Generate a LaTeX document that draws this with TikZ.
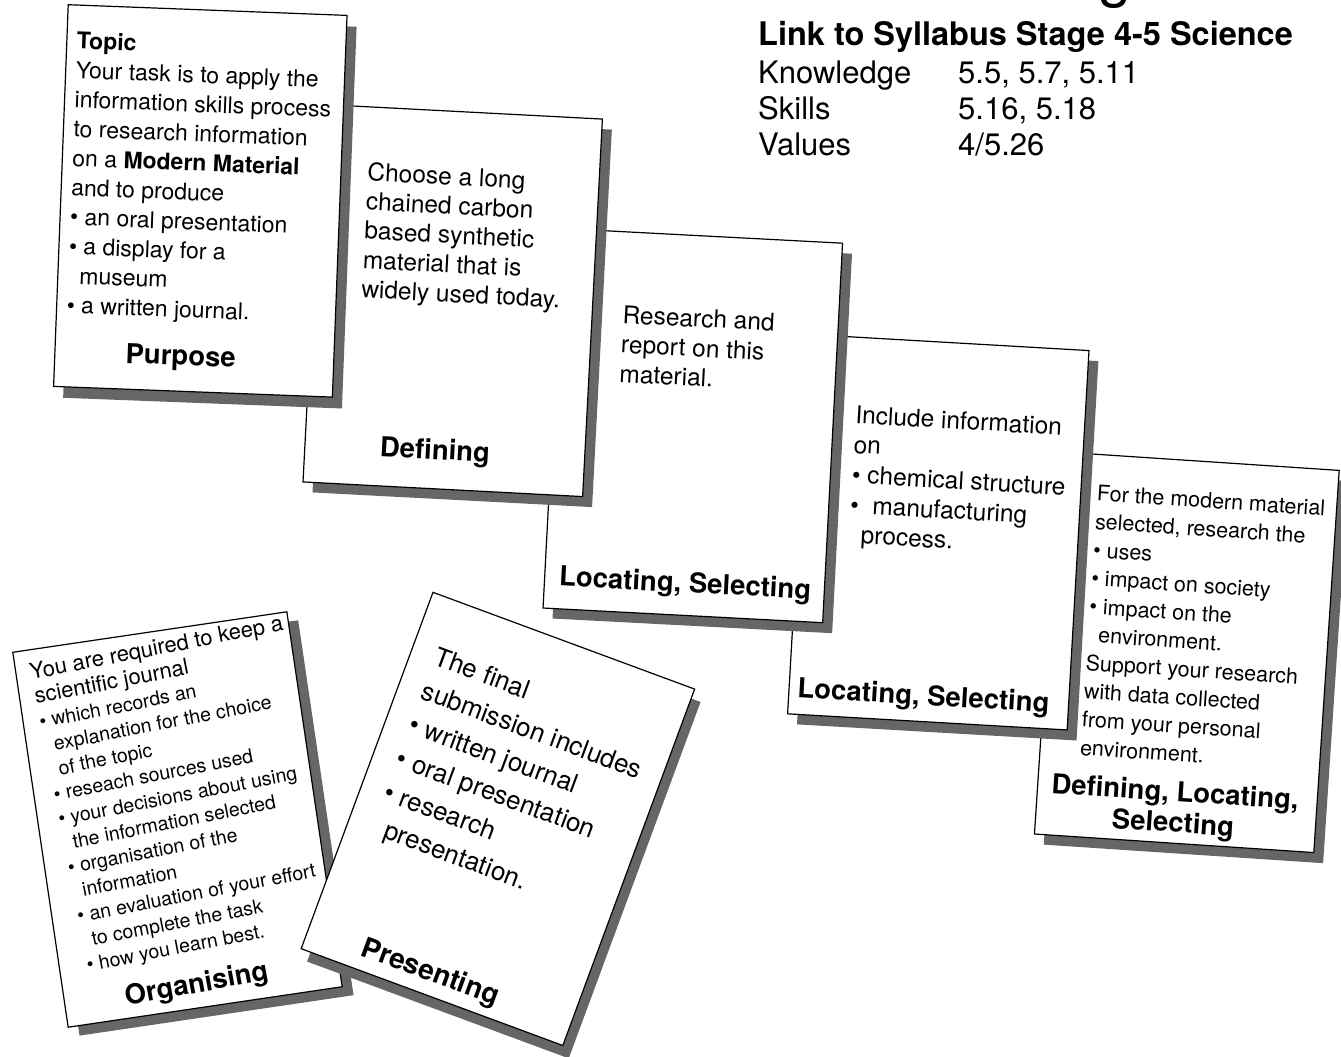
\documentclass[tikz,border=0pt]{standalone}
\usepackage{fontspec}
\usepackage{tikz}
\setmainfont{TeX Gyre Heros}
\tikzset{card/.style = {draw = black, line width = 1.2pt, fill = white,
                        inner sep = 0pt},
         cardshadow/.style = {fill = black!60},
         cardtext/.style = {anchor = north west, align = left, inner sep = 0pt},
         cardlabel/.style = {font = \fontsize{27.5}{31}\selectfont\bfseries,
                             align = center, inner sep = 0pt},
         syllabus/.style = {anchor = base west, inner sep = 0pt,
                            font = \fontsize{31}{36}\selectfont}}

\begin{document}
\begin{tikzpicture}[x = 1pt, y = -1pt]
      \useasboundingbox (0, 0) rectangle (1341, 1057);
      \fill [white] (0, 0) rectangle (1341, 1057);

      \node [syllabus, font = \fontsize{60}{60}\selectfont] (heading) at (1098, -4) {g};
      \node [syllabus, font = \fontsize{32.5}{36}\selectfont\bfseries] (link) at (758, 46)
        {Link to Syllabus Stage 4-5 Science};
      \node [syllabus] (knowledge) at (758, 83) {Knowledge};
      \node [syllabus] (knowledgeref) at (958, 83) {5.5, 5.7, 5.11};
      \node [syllabus] (skills) at (758, 119) {Skills};
      \node [syllabus] (skillsref) at (958, 119) {5.16, 5.18};
      \node [syllabus] (values) at (758, 155) {Values};
      \node [syllabus] (valuesref) at (958, 155) {4/5.26};

      \begin{scope}[shift = {(1186.8, 652.2)}, rotate = -3.8, transform shape]
        \fill [cardshadow] (-130, -181.5) rectangle (150, 201.5);
        \node [card, minimum width = 280, minimum height = 383] (uses) at (0, 0) {};
        \node [cardtext, font = \fontsize{21.5}{28.3}\selectfont] (usestext) at (-100.2, -160.9)
          {For the modern material\\ selected, research the\\ \textbullet\ uses\\
           \textbullet\ impact on society\\ \textbullet\ impact on the\\
           \hspace*{0.5em}environment.\\ Support your research\\ with data collected\\
           from your personal\\ environment.};
        \node [cardlabel] (useslabel) at (-2.4, 157.8) {Defining, Locating,\\ Selecting};
      \end{scope}

      \begin{scope}[shift = {(938.3, 532.2)}, rotate = -3.3, transform shape]
        \fill [cardshadow] (-130, -180) rectangle (150, 200);
        \node [card, minimum width = 280, minimum height = 380] (include) at (0, 0) {};
        \node [cardtext, font = \fontsize{24.5}{30}\selectfont] (includetext) at (-89.6, -122.2)
          {Include information\\ on\\ \textbullet\ chemical structure\\
           \textbullet\ \ manufacturing\\ \hspace*{0.5em}process.};
        \node [cardlabel] (includelabel) at (-5.3, 166) {Locating, Selecting};
      \end{scope}

      \begin{scope}[shift = {(692.8, 425.6)}, rotate = -3, transform shape]
        \fill [cardshadow] (-130, -180) rectangle (150, 200);
        \node [card, minimum width = 280, minimum height = 380] (report) at (0, 0) {};
        \node [cardtext, font = \fontsize{24.5}{29.5}\selectfont] (reporttext) at (-76, -116.7)
          {Research and\\ report on this\\ material.};
        \node [cardlabel] (reportlabel) at (0.7, 159.7) {Locating, Selecting};
      \end{scope}

      \begin{scope}[shift = {(452.7, 300.5)}, rotate = -3, transform shape]
        \fill [cardshadow] (-130, -179) rectangle (150, 199);
        \node [card, minimum width = 280, minimum height = 378] (choose) at (0, 0) {};
        \node [cardtext, font = \fontsize{24.5}{29.3}\selectfont] (choosetext) at (-91.9, -133.9)
          {Choose a long\\ chained carbon\\ based synthetic\\ material that is\\
           widely used today.};
        \node [cardlabel] (chooselabel) at (-9.8, 152.2) {Defining};
      \end{scope}

      \begin{scope}[shift = {(200.3, 200.9)}, rotate = -2.2, transform shape]
        \fill [cardshadow] (-129.5, -180) rectangle (149.5, 202);
        \node [card, minimum width = 279, minimum height = 382] (topic) at (0, 0) {};
        \node [cardtext, font = \fontsize{23}{29.4}\selectfont] (topictext) at (-129.6, -164.7)
          {\textbf{Topic}\\ Your task is to apply the\\ information skills process\\
           to research information\\ on a \textbf{Modern Material}\\ and to produce\\
           \textbullet\ an oral presentation\\ \textbullet\ a display for a\\
           \hspace*{0.5em}museum\\ \textbullet\ a written journal.};
        \node [cardlabel] (topiclabel) at (-13.6, 158) {Purpose};
      \end{scope}

      \begin{scope}[shift = {(177.5, 819.5)}, rotate = 8.4, transform shape]
        \fill [cardshadow] (-128.5, -179.5) rectangle (148.5, 199.5);
        \node [card, minimum width = 277, minimum height = 379] (journal) at (0, 0) {};
        \node [cardtext, rotate = 2.6, font = \fontsize{19.5}{24.8}\selectfont] (journaltext)
          at (-125, -176)
          {{\fontsize{22}{24.8}\selectfont You are required to keep a}\\
           {\fontsize{22}{24.8}\selectfont scientific journal}\\
           \textbullet\ which records an\\ \hspace*{0.5em}explanation for the choice\\
           \hspace*{0.5em}of the topic\\ \textbullet\ reseach sources used\\
           \textbullet\ your decisions about using\\ \hspace*{0.5em}the information selected\\
           \textbullet\ organisation of the\\ \hspace*{0.5em}information\\
           \textbullet\ an evaluation of your effort\\ \hspace*{0.5em}to complete the task\\
           \textbullet\ how you learn best.};
        \node [cardlabel, rotate = 2] (journallabel) at (-5.2, 167) {Organising};
      \end{scope}

      \begin{scope}[shift = {(497.9, 818.9)}, rotate = -20.3, transform shape]
        \fill [cardshadow] (-129.5, -180) rectangle (149.5, 200);
        \node [card, minimum width = 279, minimum height = 380] (submission) at (0, 0) {};
        \node [cardtext, font = \fontsize{26}{36}\selectfont] (submissiontext) at (-115.2, -141.4)
          {The final\\ submission includes\\ \textbullet\ written journal\\
           \textbullet\ oral presentation\\ \textbullet\ research\\
           \hspace*{0.5em}presentation.};
        \node [cardlabel, font = \fontsize{28}{31}\selectfont\bfseries] (submissionlabel)
          at (-10.1, 168.4) {Presenting};
      \end{scope}
\end{tikzpicture}
\end{document}
